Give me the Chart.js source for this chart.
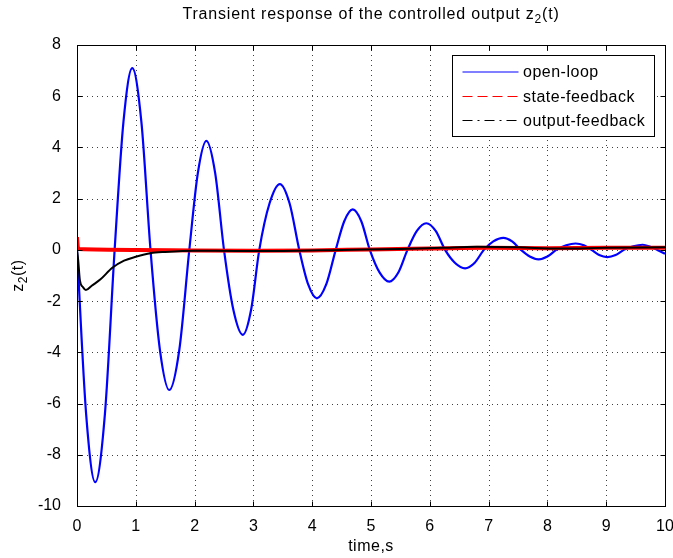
<!DOCTYPE html>
<html>
<head>
<meta charset="utf-8">
<script src="https://cdn.jsdelivr.net/npm/chart.js@4.4.0/dist/chart.umd.min.js"></script>
<style>
  html, body { margin: 0; padding: 0; background: #fff; }
  #wrap { width: 673px; height: 558px; }
</style>
</head>
<body>
<div id="wrap"><canvas id="chart" width="673" height="558"></canvas></div>
<script>
// --- data --- //
const openLoopT = [0, 0.155, 0.31, 0.475, 0.64, 0.79, 0.94, 1.095, 1.25, 1.41, 1.57, 1.74, 1.91, 2.055, 2.2, 2.35, 2.5, 2.66, 2.82, 2.96, 3.10, 3.275, 3.45, 3.615, 3.78, 3.93, 4.08, 4.24, 4.40, 4.545, 4.69, 4.835, 4.98, 5.145, 5.31, 5.465, 5.62, 5.78, 5.94, 6.10, 6.26, 6.43, 6.6, 6.76, 6.92, 7.08, 7.25, 7.40, 7.55, 7.70, 7.85, 8.0, 8.15, 8.32, 8.48, 8.62, 8.75, 8.88, 9.02, 9.16, 9.3, 9.46, 9.62, 9.75, 9.87, 10];
const openLoopV = [0, -6.4, -9.07, -6.4, 0, 5.0, 7.1, 5.0, 0, -3.9, -5.47, -3.9, 0, 3.0, 4.26, 3.0, 0, -2.35, -3.32, -2.35, 0, 1.82, 2.57, 1.82, 0, -1.34, -1.89, -1.34, 0, 1.12, 1.58, 1.12, 0, -0.88, -1.24, -0.88, 0, 0.74, 1.04, 0.74, 0, -0.51, -0.72, -0.51, 0, 0.33, 0.47, 0.33, 0, -0.26, -0.37, -0.26, 0, 0.18, 0.25, 0.18, 0, -0.2, -0.28, -0.2, 0, 0.14, 0.2, 0.12, 0, -0.15];

const stateFbT = [0, 0.015, 0.04, 1, 2, 3, 4, 5, 6, 7, 8, 9, 10];
const stateFbV = [0.5, 0.1, 0.03, 0.0, -0.02, -0.03, -0.02, 0.02, 0.05, 0.08, 0.06, 0.08, 0.08];

const outputFbT = [0, 0.02, 0.05, 0.1, 0.15, 0.25, 0.4, 0.6, 0.8, 1.0, 1.25, 1.5, 2.0, 2.7, 3.5, 4.5, 5.5, 6.2, 6.8, 7.5, 8.2, 9.0, 10];
const outputFbV = [0, -0.4, -1.2, -1.45, -1.57, -1.4, -1.15, -0.7, -0.42, -0.27, -0.13, -0.08, -0.03, -0.04, -0.04, 0.0, 0.03, 0.08, 0.12, 0.1, 0.05, 0.08, 0.1];

const seriesNames = ['open-loop', 'state-feedback', 'output-feedback'];
const xTicks = [0, 1, 2, 3, 4, 5, 6, 7, 8, 9, 10];
const yTicks = [-10, -8, -6, -4, -2, 0, 2, 4, 6, 8];

const FONT = '"Liberation Sans", Arial, Helvetica, sans-serif';

function pts(ts, vs) {
    return ts.map((t, i) => ({ x: t, y: vs[i] }));
}

// 틀, 눈금, 격자, 제목, 범례
const matlabAxes = {
    id: 'matlabAxes',
    beforeDatasetsDraw(chart) {
        const { ctx, chartArea: a, scales: { x, y } } = chart;
        ctx.save();
        ctx.strokeStyle = 'rgba(0,0,0,0.75)';
        ctx.lineWidth = 1;
        ctx.setLineDash([1, 4]);
        xTicks.forEach(v => {
            const px = Math.round(x.getPixelForValue(v)) + 0.5;
            ctx.beginPath(); ctx.moveTo(px, a.top); ctx.lineTo(px, a.bottom); ctx.stroke();
        });
        yTicks.forEach(v => {
            const py = Math.round(y.getPixelForValue(v)) + 0.5;
            ctx.beginPath(); ctx.moveTo(a.left, py); ctx.lineTo(a.right, py); ctx.stroke();
        });
        ctx.restore();
    },
    afterDraw(chart) {
        const { ctx, chartArea: a, scales: { x, y } } = chart;
        const L = Math.round(a.left) + 0.5, R = Math.round(a.right) + 0.5;
        const T = Math.round(a.top) + 0.5, B = Math.round(a.bottom) + 0.5;
        ctx.save();
        ctx.strokeStyle = '#000';
        ctx.lineWidth = 1;
        ctx.setLineDash([]);
        ctx.strokeRect(L, T, R - L, B - T);
        const tl = 5;
        xTicks.forEach(v => {
            const px = Math.round(x.getPixelForValue(v)) + 0.5;
            ctx.beginPath();
            ctx.moveTo(px, B); ctx.lineTo(px, B - tl);
            ctx.moveTo(px, T); ctx.lineTo(px, T + tl);
            ctx.stroke();
        });
        yTicks.forEach(v => {
            const py = Math.round(y.getPixelForValue(v)) + 0.5;
            ctx.beginPath();
            ctx.moveTo(L, py); ctx.lineTo(L + tl, py);
            ctx.moveTo(R, py); ctx.lineTo(R - tl, py);
            ctx.stroke();
        });

        // 제목
        ctx.fillStyle = '#000';
        ctx.textBaseline = 'alphabetic';
        ctx.textAlign = 'left';
        ctx.letterSpacing = '0.8px';
        const main = 'Transient response of the controlled output z';
        const big = '16px ' + FONT, small = '12px ' + FONT;
        ctx.font = big;
        const w1 = ctx.measureText(main).width;
        const w3 = ctx.measureText('(t)').width;
        ctx.font = small;
        const w2 = ctx.measureText('2').width;
        const cx = (a.left + a.right) / 2;
        let tx = cx - (w1 + w2 + w3) / 2;
        const base = 19;
        ctx.font = big; ctx.fillText(main, tx, base); tx += w1;
        ctx.font = small; ctx.fillText('2', tx, base + 4); tx += w2;
        ctx.font = big; ctx.fillText('(t)', tx, base);
        ctx.letterSpacing = '0px';

        // x축 제목
        ctx.font = '16px ' + FONT;
        ctx.textAlign = 'center';
        ctx.letterSpacing = '0.5px';
        ctx.fillText('time,s', cx, 551);

        // y축 제목
        ctx.save();
        ctx.translate(23, (a.top + a.bottom) / 2);
        ctx.rotate(-Math.PI / 2);
        ctx.font = '16px ' + FONT;
        const zw = ctx.measureText('z').width;
        ctx.font = '12px ' + FONT;
        const sw = ctx.measureText('2').width;
        ctx.font = '16px ' + FONT;
        const tw = ctx.measureText('(t)').width;
        let yx = -(zw + sw + tw) / 2;
        ctx.textAlign = 'left';
        ctx.fillText('z', yx, 0); yx += zw;
        ctx.font = '12px ' + FONT; ctx.fillText('2', yx, 4); yx += sw;
        ctx.font = '16px ' + FONT; ctx.fillText('(t)', yx, 0);
        ctx.restore();

        // 범례
        const bx = 452.5, by = 55.5, bw = 202, bh = 81;
        ctx.fillStyle = '#fff';
        ctx.fillRect(bx, by, bw, bh);
        ctx.strokeStyle = '#000';
        ctx.lineWidth = 1;
        ctx.strokeRect(bx, by, bw, bh);
        const rows = [72, 96.5, 120.5];
        chart.data.datasets.forEach((ds, i) => {
            ctx.strokeStyle = ds.borderColor;
            ctx.lineWidth = 1.2;
            ctx.setLineDash(ds.legendDash);
            ctx.beginPath();
            ctx.moveTo(462.5, rows[i]); ctx.lineTo(518.5, rows[i]);
            ctx.stroke();
            ctx.setLineDash([]);
            ctx.fillStyle = '#000';
            ctx.font = '16px ' + FONT;
            ctx.letterSpacing = '0.5px';
            ctx.textAlign = 'left';
            ctx.textBaseline = 'middle';
            ctx.fillText(ds.label, 523, rows[i] + 1);
        });
        ctx.restore();
    }
};

const ctx = document.getElementById('chart').getContext('2d');
new Chart(ctx, {
    type: 'line',
    data: {
        datasets: [
            {
                label: seriesNames[0],
                data: pts(openLoopT, openLoopV),
                borderColor: '#0000ff',
                borderWidth: 2.2,
                cubicInterpolationMode: 'monotone',
                pointRadius: 0,
                order: 3,
                legendDash: []
            },
            {
                label: seriesNames[1],
                data: pts(stateFbT, stateFbV),
                borderColor: '#ff0000',
                borderWidth: 4,
                cubicInterpolationMode: 'monotone',
                pointRadius: 0,
                order: 2,
                legendDash: [10, 5]
            },
            {
                label: seriesNames[2],
                data: pts(outputFbT, outputFbV),
                borderColor: '#000000',
                borderWidth: 2,
                cubicInterpolationMode: 'monotone',
                pointRadius: 0,
                order: 1,
                legendDash: [10, 5, 2, 5]
            }
        ]
    },
    options: {
        responsive: false,
        animation: false,
        devicePixelRatio: 1,
        layout: { padding: { left: 0, right: 8, top: 45, bottom: 0 } },
        plugins: {
            legend: { display: false },
            title: { display: false },
            tooltip: { enabled: false }
        },
        scales: {
            x: {
                type: 'linear',
                min: 0, max: 10,
                afterBuildTicks: s => { s.ticks = xTicks.map(v => ({ value: v })); },
                afterFit: s => { s.height = 52; s.paddingLeft = 0; s.paddingRight = 0; },
                grid: { display: false },
                border: { display: false },
                ticks: { color: '#000', font: { size: 16, family: FONT }, padding: 3, maxRotation: 0 }
            },
            y: {
                type: 'linear',
                min: -10, max: 8,
                afterBuildTicks: s => { s.ticks = yTicks.map(v => ({ value: v })); },
                afterFit: s => { s.width = 77; s.paddingTop = 0; s.paddingBottom = 0; },
                grid: { display: false },
                border: { display: false },
                ticks: { color: '#000', font: { size: 16, family: FONT }, padding: 8 }
            }
        }
    },
    plugins: [matlabAxes]
});
</script>
</body>
</html>
